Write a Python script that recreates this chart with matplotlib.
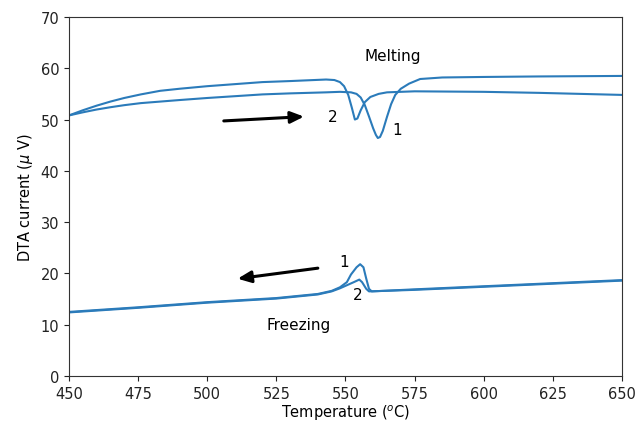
import matplotlib.pyplot as plt

# heating runs (melting)
melt1_t = [450, 455, 460, 465, 470, 476, 483, 490, 500, 510, 520, 530, 543, 548, 552,
           554, 555.5, 557, 558.5, 560, 561, 561.7, 562.5, 563.5, 565, 566.5, 568, 570,
           573, 577, 585, 600, 620, 650]
melt1_v = [50.8, 51.4, 51.95, 52.4, 52.8, 53.2, 53.5, 53.8, 54.2, 54.55, 54.9, 55.1,
           55.3, 55.4, 55.3, 55.0, 54.3, 52.8, 50.6, 48.3, 47.0, 46.4, 46.6, 47.8, 50.5,
           53.0, 54.8, 56.0, 57.0, 57.9, 58.2, 58.3, 58.4, 58.5]
melt2_t = [450, 455, 460, 465, 470, 476, 483, 490, 500, 510, 520, 530, 543, 546, 548,
           549.5, 551, 552.3, 553.4, 554.3, 555.5, 557, 559, 562, 565, 575, 600, 620, 650]
melt2_v = [50.8, 51.8, 52.7, 53.5, 54.2, 54.9, 55.6, 56.0, 56.5, 56.9, 57.3, 57.5, 57.8,
           57.7, 57.3, 56.5, 54.8, 52.3, 50.0, 50.2, 51.8, 53.4, 54.4, 55.0, 55.3, 55.5,
           55.4, 55.2, 54.8]

# cooling runs (freezing)
frz1_t = [450, 475, 500, 525, 540, 545, 548, 550.5, 552, 554, 555.3, 556.5, 557.5,
          558.5, 559.5, 575, 600, 625, 650]
frz1_v = [12.5, 13.4, 14.4, 15.2, 16.0, 16.6, 17.3, 18.3, 19.8, 21.2, 21.8, 21.2, 19.0,
          17.0, 16.5, 16.9, 17.5, 18.1, 18.7]
frz2_t = [450, 475, 500, 525, 540, 545, 548, 550.5, 553, 555, 556, 557.5, 558.5,
          575, 600, 625, 650]
frz2_v = [12.4, 13.3, 14.3, 15.1, 15.9, 16.5, 17.1, 17.7, 18.3, 18.8, 18.3, 17.0, 16.5,
          16.8, 17.4, 18.0, 18.6]

blue = '#2b7bba'

fig = plt.figure(figsize=(6.38, 4.27), dpi=100)
ax = fig.add_axes([0.108, 0.117, 0.867, 0.841])

for t, v in [(melt1_t, melt1_v), (melt2_t, melt2_v), (frz1_t, frz1_v), (frz2_t, frz2_v)]:
    ax.plot(t, v, color=blue, linewidth=1.5)

ax.set_xlim(450, 650)
ax.set_ylim(0, 70)
ax.set_xticks(range(450, 651, 25))
ax.set_yticks(range(0, 71, 10))
ax.tick_params(labelsize=10.5, colors='#222222')
for s in ax.spines.values():
    s.set_color('#333333')
ax.set_xlabel('Temperature ($^o$C)', fontsize=10.5, labelpad=1)
ax.set_ylabel('DTA current ($\\mu$ V)', fontsize=10.5)

arrow = dict(arrowstyle='-|>,head_length=0.8,head_width=0.35', color='black', lw=2.2)
ax.annotate('', xy=(536, 50.6), xytext=(505, 49.7), arrowprops=arrow)
ax.annotate('', xy=(510, 18.9), xytext=(541, 21.1), arrowprops=arrow)

ax.text(567, 62.4, 'Melting', fontsize=11, ha='center', va='center')
ax.text(533, 10.1, 'Freezing', fontsize=11, ha='center', va='center')
ax.text(545.5, 50.5, '2', fontsize=11, ha='center', va='center')
ax.text(568.6, 48.0, '1', fontsize=11, ha='center', va='center')
ax.text(549.5, 22.4, '1', fontsize=11, ha='center', va='center')
ax.text(554.5, 15.8, '2', fontsize=11, ha='center', va='center')

fig.savefig('out.png', dpi=100)
